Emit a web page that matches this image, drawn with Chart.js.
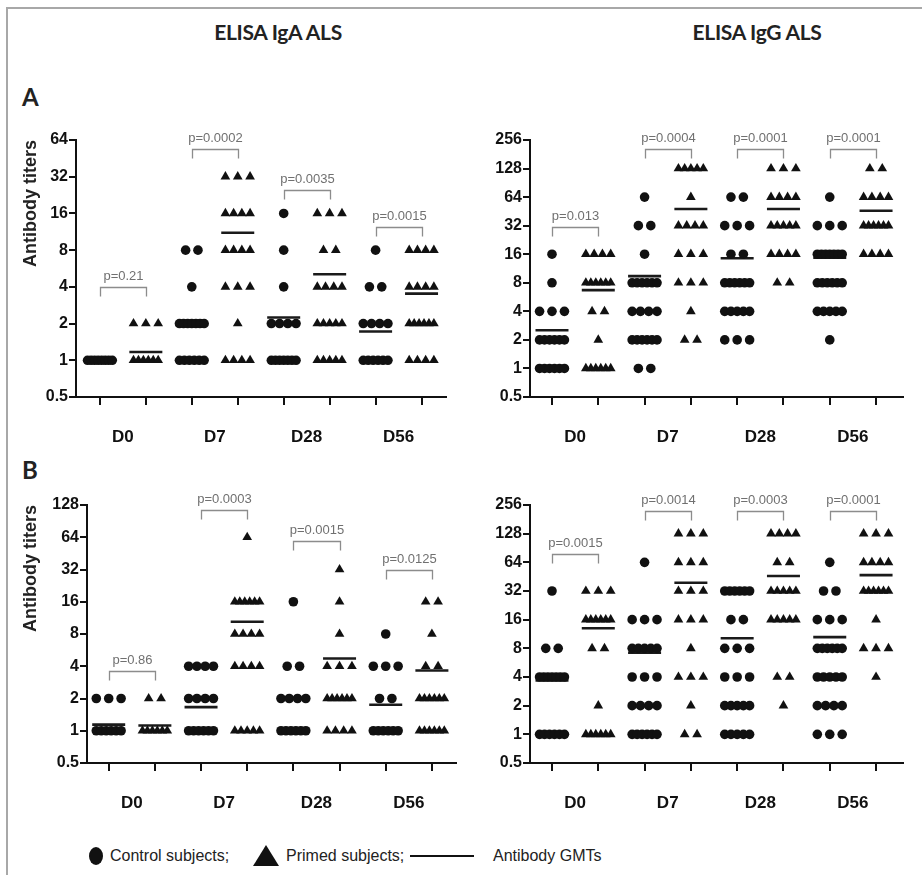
<!DOCTYPE html>
<html><head><meta charset="utf-8">
<script src="https://cdn.jsdelivr.net/npm/chart.js@4.4.1/dist/chart.umd.min.js"></script>
<style>
body{margin:0;background:#fff;width:922px;height:875px;position:relative;overflow:hidden;font-family:'Liberation Sans',Arial,sans-serif;color:#111}
.frame{position:absolute;left:6px;top:7px;width:930px;height:900px;border-top:2px solid #a8a8a8;border-left:2px solid #a8a8a8}
.ttl{position:absolute;top:19px;width:240px;text-align:center;font:bold 21px Lato,'Open Sans',sans-serif;color:#222;letter-spacing:-0.3px}
.lab{position:absolute;left:22px;font:bold 24px Lato,'Open Sans',sans-serif;color:#222}
canvas{position:absolute}
.lg{position:absolute;top:846px;font:16px 'Liberation Sans Narrow','Liberation Sans',Arial,sans-serif;color:#222;line-height:20px}
</style></head><body>
<div class="frame"></div>
<div class="ttl" style="left:158px">ELISA IgA ALS</div>
<div class="ttl" style="left:637px">ELISA IgG ALS</div>
<div class="lab" style="top:82px">A</div>
<div class="lab" style="top:455px">B</div>
<canvas id="cA1" width="457" height="350" style="left:8px;top:105px"></canvas>
<canvas id="cA2" width="452" height="350" style="left:470px;top:105px"></canvas>
<canvas id="cB1" width="467" height="351" style="left:8px;top:470px"></canvas>
<canvas id="cB2" width="452" height="351" style="left:470px;top:470px"></canvas>
<div class="lg" style="left:89px;top:847px;width:14px;height:18px;border-radius:50%;background:#111"></div>
<div class="lg" style="left:110px">Control subjects;</div>
<div class="lg" style="left:253px;top:845px;width:0;height:0;border-left:13px solid transparent;border-right:13px solid transparent;border-bottom:21px solid #111"></div>
<div class="lg" style="left:286px">Primed subjects;</div>
<div class="lg" style="left:410px;top:855px;width:64px;height:0;border-top:2.5px solid #111"></div>
<div class="lg" style="left:493px">Antibody GMTs</div>
<script>
const days = ['D0','D7','D28','D56'];
const lvIgA = [1,2,4,8,16,32,64];
const lvIgG = [1,2,4,8,16,32,64,128];
const ticksA1 = [0.5,1,2,4,8,16,32,64];
const ticksB1 = [0.5,1,2,4,8,16,32,64,128];
const ticksG  = [0.5,1,2,4,8,16,32,64,128,256];

// subjects per titer level (levels above), one row per day D0, D7, D28, D56
// A - IgA ALS
const ctlA_IgA = [[8,0,0,0,0,0,0],[6,7,1,2,0,0,0],[7,4,1,1,1,0,0],[6,4,2,1,0,0,0]];
const priA_IgA = [[6,3,0,0,0,0,0],[4,1,3,4,4,3,0],[5,5,4,2,3,0,0],[4,6,4,4,0,0,0]];
const gmtCA_IgA = [1, 1.95, 2.24, 1.72];
const gmtPA_IgA = [1.17, 11.1, 5.07, 3.52];
const pA_IgA = ['p=0.21','p=0.0002','p=0.0035','p=0.0015'];
// A - IgG ALS
const ctlA_IgG = [[6,6,3,1,1,0,0,0],[2,6,4,6,1,2,1,0],[0,3,5,6,2,3,2,0],[0,1,5,6,7,3,1,0]];
const priA_IgG = [[6,1,2,6,4,0,0,0],[0,2,1,3,3,4,1,5],[0,0,0,2,4,5,4,3],[0,0,0,0,4,6,4,2]];
const gmtCA_IgG = [2.53, 9.4, 14.5, 14.7];
const gmtPA_IgG = [6.7, 48, 48, 46];
const pA_IgG = ['p=0.013','p=0.0004','p=0.0001','p=0.0001'];
// B - IgA ALS
const ctlB_IgA = [[6,3,0,0,0,0,0],[6,4,4,0,0,0,0],[6,4,2,0,1,0,0],[6,2,3,1,0,0,0]];
const priB_IgA = [[6,2,0,0,0,0,0],[5,0,4,4,6,0,1],[4,6,3,1,1,1,0],[6,6,2,1,2,0,0]];
const gmtCB_IgA = [1.14, 1.66, 2.0, 1.75];
const gmtPB_IgA = [1.12, 10.4, 4.72, 3.65];
const pB_IgA = ['p=0.86','p=0.0003','p=0.0015','p=0.0125'];
// B - IgG ALS
const ctlB_IgG = [[6,0,7,2,0,1,0,0],[6,4,3,5,3,0,1,0],[5,5,3,3,2,6,0,0],[3,4,5,6,3,2,1,0]];
const priB_IgG = [[6,1,0,2,6,3,0,0],[2,1,3,1,3,3,3,3],[0,1,2,0,5,5,2,4],[0,0,1,3,1,6,4,3]];
const gmtCB_IgG = [3.68, 7.2, 10.2, 10.5];
const gmtPB_IgG = [13, 39, 46, 47];
const pB_IgG = ['p=0.0015','p=0.0014','p=0.0003','p=0.0001'];

Chart.defaults.font.family = "'Liberation Sans', Arial, sans-serif";
Chart.defaults.color = '#111';

const PXU = 48.4;   // px per category unit, used for the dot spread
function spread(levels, counts, center){
  const pts=[];
  counts.forEach((n,i)=>{
    const sp = n>1 ? Math.min(13, 26/(n-1)) : 0;
    for(let k=0;k<n;k++) pts.push({x:center+(k-(n-1)/2)*sp/PXU, y:levels[i]});
  });
  return pts;
}

const brackets = o => ({
  id:'brk',
  afterDraw(c){
    const {ctx, scales:{x,y}} = c;
    ctx.save();
    ctx.strokeStyle='#8c8c8c'; ctx.lineWidth=1.3;
    ctx.fillStyle='#707070'; ctx.textAlign='center';
    ctx.font="13px 'Liberation Sans Narrow','Liberation Sans',Arial,sans-serif";
    o.pvals.forEach((p,d)=>{
      const x1=Math.round(x.getPixelForValue(2*d))+.5, x2=Math.round(x.getPixelForValue(2*d+1))+.5;
      const yt=Math.round(y.getPixelForValue(o.brk[d]))+.5;
      ctx.beginPath(); ctx.moveTo(x1,yt+9); ctx.lineTo(x1,yt); ctx.lineTo(x2,yt); ctx.lineTo(x2,yt+9); ctx.stroke();
      ctx.fillText(p,(x1+x2)/2,yt-8);
    });
    ctx.restore();
  }
});

function panel(id,o){
  const pts=(grp,off)=>grp.flatMap((cnt,d)=>spread(o.levels,cnt,2*d+off));
  const axisLine={color:'#111',width:2};
  new Chart(document.getElementById(id),{
    type:'scatter',
    data:{datasets:[
      {data:pts(o.ctl,0),pointStyle:'circle',pointRadius:4.8,backgroundColor:'#111',borderWidth:0},
      {data:pts(o.pri,1),pointStyle:'triangle',pointRadius:5.6,backgroundColor:'#111',borderWidth:0},
      {data:o.gmtC.map((v,d)=>({x:2*d,y:v})).concat(o.gmtP.map((v,d)=>({x:2*d+1,y:v}))),
       pointStyle:'line',pointRadius:16.5,borderColor:'#1a1a1a',borderWidth:2.6}
    ]},
    options:{responsive:false,animation:false,events:[],
      layout:{padding:{top:35,right:o.padR,bottom:6,left:0}},
      plugins:{legend:{display:false},tooltip:{enabled:false}},
      scales:{
        x:{type:'linear',min:o.xMin,max:o.xMax,
          afterBuildTicks:s=>{s.ticks=[0,1,2,3,4,5,6,7].map(v=>({value:v}));},
          ticks:{display:false},
          grid:{drawOnChartArea:false,color:'#111',lineWidth:2,tickLength:8},
          border:axisLine, afterFit:s=>{s.height=8;}},
        x2:{type:'linear',position:'bottom',min:o.xMin,max:o.xMax,
          afterBuildTicks:s=>{s.ticks=[0.5,2.5,4.5,6.5].map(v=>({value:v}));},
          ticks:{callback:v=>days[(v-0.5)/2],font:{size:17,weight:'bold'},color:'#111',padding:14,autoSkip:false,maxRotation:0},
          grid:{display:false},border:{display:false},afterFit:s=>{s.height=44;}},
        y:{type:'logarithmic',min:0.5,max:o.ymax,
          afterBuildTicks:s=>{s.ticks=o.yticks.map(v=>({value:v}));},
          ticks:{callback:v=>String(v),font:{size:16,weight:'bold'},color:'#111',padding:1,autoSkip:false},
          grid:{drawOnChartArea:false,color:'#111',lineWidth:2,tickLength:7},
          border:axisLine,
          title:{display:!!o.title,text:o.title||'',align:'end',font:{size:18,weight:'bold'},color:'#222',padding:{top:12,bottom:0}},
          afterFit:s=>{s.width=o.axisW;}}
      }
    },
    plugins:[brackets(o)]
  });
}

panel('cA1',{levels:lvIgA,ctl:ctlA_IgA,pri:priA_IgA,gmtC:gmtCA_IgA,gmtP:gmtPA_IgA,pvals:pA_IgA,
  brk:[4,54,25,12.3],ymax:64,yticks:ticksA1,title:'Antibody titers',axisW:68,padR:0,xMin:-0.52,xMax:7.53});
panel('cA2',{levels:lvIgG,ctl:ctlA_IgG,pri:priA_IgG,gmtC:gmtCA_IgG,gmtP:gmtPA_IgG,pvals:pA_IgG,
  brk:[31,207,207,207],ymax:256,yticks:ticksG,title:null,axisW:60,padR:2,xMin:-0.475,xMax:7.58});
panel('cB1',{levels:lvIgA,ctl:ctlB_IgA,pri:priB_IgA,gmtC:gmtCB_IgA,gmtP:gmtPB_IgA,pvals:pB_IgA,
  brk:[3.6,115,59,31.6],ymax:128,yticks:ticksB1,title:'Antibody titers',axisW:79,padR:0,xMin:-0.47,xMax:7.52});
panel('cB2',{levels:lvIgG,ctl:ctlB_IgG,pri:priB_IgG,gmtC:gmtCB_IgG,gmtP:gmtPB_IgG,pvals:pB_IgG,
  brk:[78,223,223,223],ymax:256,yticks:ticksG,title:null,axisW:60,padR:2,xMin:-0.475,xMax:7.58});
</script>
</body></html>
